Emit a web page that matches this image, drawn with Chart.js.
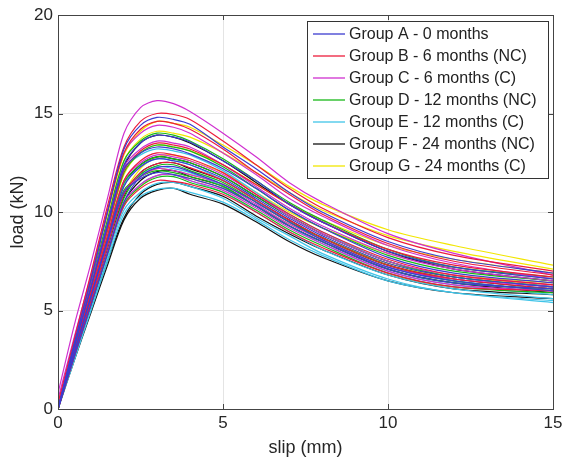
<!DOCTYPE html>
<html>
<head>
<meta charset="utf-8">
<script src="https://cdn.jsdelivr.net/npm/chart.js@4.4.1/dist/chart.umd.min.js"></script>
<style>
  html, body { margin: 0; padding: 0; background: #fff; }
</style>
</head>
<body>
<canvas id="slipChart" width="562" height="461"></canvas>
<script>
// slip values (mm) shared by every specimen curve
const SLIP = [0, 0.5, 1, 1.5, 2, 2.5, 3, 3.5, 4, 5, 6, 7, 8, 10, 12, 15];

// load (kN) per specimen
const groupA = [
  [0, 3.4, 6.6, 10.0, 13.2, 14.4, 14.8, 14.7, 14.45, 13.3, 12.2, 11.0, 10.0, 8.5, 7.6, 6.9],
  [0, 3.2, 6.2, 9.4, 12.4, 13.5, 13.9, 13.8, 13.55, 12.6, 11.6, 10.4, 9.5, 8.0, 7.2, 6.6],
  [0, 3.2, 6.2, 9.3, 12.2, 13.0, 13.3, 13.2, 12.95, 12.2, 11.2, 10.1, 9.2, 7.7, 6.9, 6.4],
  [0, 2.9, 5.7, 8.6, 11.3, 12.3, 12.7, 12.6, 12.4, 11.7, 10.7, 9.7, 8.8, 7.4, 6.7, 6.2],
  [0, 2.7, 5.3, 7.9, 10.5, 11.8, 12.25, 12.3, 12.05, 11.4, 10.5, 9.5, 8.6, 7.2, 6.5, 6.0],
  [0, 2.9, 5.7, 8.5, 11.0, 11.7, 12.0, 11.9, 11.7, 11.2, 10.3, 9.3, 8.5, 7.1, 6.4, 6.1]
];
const groupB = [
  [0.3, 3.6, 6.9, 10.3, 13.3, 14.6, 15.0, 14.95, 14.7, 13.6, 12.4, 11.2, 10.2, 8.7, 7.8, 7.0],
  [0, 3.4, 6.6, 10.0, 13.0, 14.2, 14.6, 14.5, 14.2, 13.2, 12.0, 10.9, 9.9, 8.4, 7.5, 6.8],
  [0, 3.1, 6.1, 9.1, 12.1, 13.1, 13.5, 13.4, 13.2, 12.4, 11.4, 10.4, 9.5, 8.1, 7.3, 6.7],
  [0, 3.0, 5.9, 8.8, 11.6, 12.6, 13.0, 12.9, 12.7, 12.0, 10.9, 9.9, 9.0, 7.6, 6.8, 6.3],
  [0, 2.8, 5.5, 8.3, 10.9, 12.0, 12.45, 12.5, 12.25, 11.6, 10.6, 9.6, 8.7, 7.3, 6.6, 6.1],
  [0, 2.7, 5.3, 7.9, 10.3, 11.2, 11.6, 11.55, 11.4, 10.9, 10.0, 9.0, 8.2, 6.9, 6.2, 6.0]
];
const groupC = [
  [0.8, 4.3, 7.4, 10.7, 14.0, 15.3, 15.65, 15.5, 15.1, 14.0, 12.8, 11.5, 10.5, 8.9, 7.9, 6.8],
  [0.5, 3.7, 6.8, 10.1, 13.0, 14.0, 14.4, 14.3, 14.0, 13.0, 11.9, 10.7, 9.8, 8.3, 7.4, 6.6],
  [0.3, 3.3, 6.3, 9.4, 12.3, 13.2, 13.6, 13.5, 13.3, 12.4, 11.3, 10.2, 9.3, 7.9, 7.1, 6.5],
  [0, 3.0, 5.9, 8.8, 11.6, 12.5, 12.9, 12.8, 12.6, 11.9, 10.9, 9.8, 8.9, 7.5, 6.8, 6.3],
  [0, 2.9, 5.6, 8.4, 11.0, 11.8, 12.2, 12.1, 11.9, 11.4, 10.4, 9.4, 8.6, 7.2, 6.6, 6.2],
  [0, 2.7, 5.3, 8.0, 10.5, 11.4, 11.85, 11.9, 11.6, 11.1, 10.2, 9.2, 8.4, 7.0, 6.3, 6.0]
];
const groupD = [
  [0, 3.3, 6.4, 9.6, 12.6, 13.6, 14.0, 13.9, 13.6, 12.7, 11.6, 10.5, 9.6, 8.1, 7.2, 6.7],
  [0, 3.1, 6.1, 9.1, 12.0, 13.0, 13.4, 13.3, 13.1, 12.3, 11.2, 10.1, 9.2, 7.8, 7.0, 6.5],
  [0, 2.9, 5.8, 8.7, 11.5, 12.4, 12.8, 12.7, 12.5, 11.8, 10.8, 9.8, 8.9, 7.5, 6.7, 6.2],
  [0, 2.7, 5.3, 8.0, 10.7, 11.9, 12.35, 12.4, 12.1, 11.5, 10.5, 9.5, 8.7, 7.3, 6.5, 6.0],
  [0, 3.0, 5.8, 8.6, 11.1, 11.8, 12.1, 12.0, 11.8, 11.3, 10.3, 9.3, 8.5, 7.1, 6.4, 6.1],
  [0, 2.7, 5.3, 7.9, 10.4, 11.3, 11.75, 11.8, 11.5, 11.0, 10.1, 9.1, 8.3, 6.9, 6.2, 5.9]
];
const groupE = [
  [0, 3.3, 6.4, 9.5, 12.2, 12.9, 13.2, 13.1, 12.9, 12.1, 11.0, 9.9, 9.0, 7.5, 6.7, 6.2],
  [0, 3.0, 5.8, 8.7, 11.4, 12.3, 12.7, 12.6, 12.4, 11.6, 10.6, 9.5, 8.6, 7.2, 6.5, 6.0],
  [0, 2.8, 5.5, 8.3, 10.9, 11.9, 12.3, 12.2, 12.0, 11.3, 10.3, 9.3, 8.4, 7.0, 6.3, 5.8],
  [0, 2.6, 5.2, 7.8, 10.3, 11.4, 11.85, 11.9, 11.6, 11.0, 10.0, 9.0, 8.1, 6.8, 6.1, 5.6],
  [0, 2.6, 5.1, 7.7, 10.1, 11.0, 11.45, 11.5, 11.3, 10.7, 9.7, 8.8, 7.9, 6.6, 5.9, 5.5],
  [0, 2.5, 5.0, 7.5, 9.9, 10.8, 11.15, 11.2, 11.0, 10.5, 9.6, 8.6, 7.8, 6.5, 5.9, 5.4]
];
const groupF = [
  [0, 3.2, 6.2, 9.3, 12.3, 13.5, 13.9, 13.8, 13.5, 12.6, 11.5, 10.4, 9.5, 8.0, 7.1, 6.5],
  [0, 2.9, 5.7, 8.6, 11.4, 12.4, 12.8, 12.7, 12.5, 11.8, 10.8, 9.8, 8.9, 7.5, 6.7, 6.2],
  [0, 2.8, 5.4, 8.1, 10.8, 12.0, 12.45, 12.5, 12.2, 11.6, 10.6, 9.6, 8.7, 7.3, 6.6, 6.1],
  [0, 2.7, 5.3, 7.9, 10.5, 11.6, 12.05, 12.1, 11.8, 11.3, 10.3, 9.3, 8.5, 7.1, 6.4, 5.9],
  [0, 2.6, 5.0, 7.5, 9.7, 10.9, 11.4, 11.5, 11.3, 10.8, 9.8, 8.9, 8.1, 6.8, 6.1, 5.8],
  [0, 2.5, 4.9, 7.3, 9.6, 10.7, 11.1, 11.2, 10.9, 10.4, 9.5, 8.5, 7.7, 6.5, 5.9, 5.6]
];
const groupG = [
  [0, 3.4, 6.6, 9.9, 12.9, 14.1, 14.6, 14.5, 14.3, 13.4, 12.4, 11.3, 10.4, 9.1, 8.3, 7.3],
  [0, 3.3, 6.4, 9.6, 12.6, 13.7, 14.1, 14.0, 13.8, 13.0, 12.0, 11.0, 10.1, 8.8, 8.0, 7.1],
  [0, 3.1, 6.0, 9.0, 11.9, 13.0, 13.4, 13.3, 13.1, 12.4, 11.4, 10.4, 9.6, 8.3, 7.6, 6.9],
  [0, 2.8, 5.5, 8.2, 10.9, 12.2, 12.8, 12.9, 12.6, 12.0, 11.0, 10.0, 9.2, 7.9, 7.2, 6.6],
  [0, 2.9, 5.7, 8.5, 11.1, 11.8, 12.2, 12.1, 11.9, 11.4, 10.5, 9.5, 8.7, 7.4, 6.8, 6.4],
  [0, 2.7, 5.3, 7.9, 10.4, 11.3, 11.85, 11.9, 11.7, 11.2, 10.3, 9.4, 8.6, 7.3, 6.7, 6.3]
];

const GROUP_NAMES = [
  'Group A - 0 months',
  'Group B - 6 months (NC)',
  'Group C - 6 months (C)',
  'Group D - 12 months (NC)',
  'Group E - 12 months (C)',
  'Group F - 24 months (NC)',
  'Group G - 24 months (C)'
];
const GROUP_COLORS = ['#3c3cd0', '#ec1c3c', '#d030d0', '#18b818', '#40c4e8', '#111111', '#f2e600'];
const X_TICKS = [0, 5, 10, 15];
const Y_TICKS = [0, 5, 10, 15, 20];

const FONT = '"Liberation Sans", Arial, Helvetica, sans-serif';
const AXIS_COLOR = '#444444';
const TEXT_COLOR = '#262626';

const groups = [groupA, groupB, groupC, groupD, groupE, groupF, groupG];
const datasets = [];
groups.forEach((curves, g) => {
  curves.forEach(loads => {
    datasets.push({
      label: GROUP_NAMES[g],
      data: loads.map((load, k) => ({ x: SLIP[k], y: load })),
      borderColor: GROUP_COLORS[g],
      borderWidth: 1.2,
      pointRadius: 0,
      fill: false,
      tension: 0.3
    });
  });
});

// matlab style box, inward ticks and the legend panel
const matlabFrame = {
  id: 'matlabFrame',
  afterDraw(chart) {
    const { ctx, chartArea: a, scales } = chart;
    ctx.save();
    ctx.strokeStyle = AXIS_COLOR;
    ctx.lineWidth = 1;
    ctx.strokeRect(a.left + 0.5, a.top + 0.5, a.right - a.left, a.bottom - a.top);

    ctx.beginPath();
    X_TICKS.forEach(v => {
      const px = Math.round(scales.x.getPixelForValue(v)) + 0.5;
      ctx.moveTo(px, a.bottom); ctx.lineTo(px, a.bottom - 5);
      ctx.moveTo(px, a.top); ctx.lineTo(px, a.top + 5);
    });
    Y_TICKS.forEach(v => {
      const py = Math.round(scales.y.getPixelForValue(v)) + 0.5;
      ctx.moveTo(a.left, py); ctx.lineTo(a.left + 5, py);
      ctx.moveTo(a.right, py); ctx.lineTo(a.right - 5, py);
    });
    ctx.stroke();

    // legend
    const bx = a.right - 246, by = a.top + 6, bw = 241, bh = 157;
    ctx.fillStyle = '#ffffff';
    ctx.fillRect(bx + 0.5, by + 0.5, bw, bh);
    ctx.strokeStyle = '#333333';
    ctx.strokeRect(bx + 0.5, by + 0.5, bw, bh);
    ctx.font = '16px ' + FONT;
    ctx.textBaseline = 'middle';
    ctx.textAlign = 'left';
    GROUP_NAMES.forEach((name, i) => {
      const y = by + 13 + i * 22;
      ctx.strokeStyle = GROUP_COLORS[i];
      ctx.lineWidth = 1.3;
      ctx.beginPath();
      ctx.moveTo(bx + 6, y);
      ctx.lineTo(bx + 38, y);
      ctx.stroke();
      ctx.fillStyle = '#222222';
      ctx.fillText(name, bx + 42, y + 1);
    });
    ctx.restore();
  }
};

new Chart(document.getElementById('slipChart'), {
  type: 'line',
  data: { datasets },
  plugins: [matlabFrame],
  options: {
    responsive: false,
    animation: false,
    devicePixelRatio: 1,
    layout: { padding: { top: 15, right: 9, left: 0, bottom: 0 } },
    plugins: {
      legend: { display: false },
      tooltip: { enabled: false }
    },
    scales: {
      x: {
        type: 'linear',
        min: 0,
        max: 15,
        afterBuildTicks: s => { s.ticks = X_TICKS.map(v => ({ value: v })); },
        afterFit: s => { s.height = 52; s.paddingLeft = 0; s.paddingRight = 0; },
        grid: { color: '#e4e4e4', drawTicks: false },
        border: { color: AXIS_COLOR },
        ticks: { padding: 4, color: TEXT_COLOR, font: { family: FONT, size: 17 } },
        title: {
          display: true,
          text: 'slip (mm)',
          color: TEXT_COLOR,
          font: { family: FONT, size: 18 },
          padding: { top: 0, bottom: 2 }
        }
      },
      y: {
        type: 'linear',
        min: 0,
        max: 20,
        afterBuildTicks: s => { s.ticks = Y_TICKS.map(v => ({ value: v })); },
        afterFit: s => { s.width = 58; s.paddingTop = 0; s.paddingBottom = 0; },
        grid: { color: '#e4e4e4', drawTicks: false },
        border: { color: AXIS_COLOR },
        ticks: { padding: 5, color: TEXT_COLOR, font: { family: FONT, size: 17 } },
        title: {
          display: true,
          text: 'load (kN)',
          color: TEXT_COLOR,
          font: { family: FONT, size: 18 },
          padding: { top: 7, bottom: 0 }
        }
      }
    }
  }
});
</script>
</body>
</html>
